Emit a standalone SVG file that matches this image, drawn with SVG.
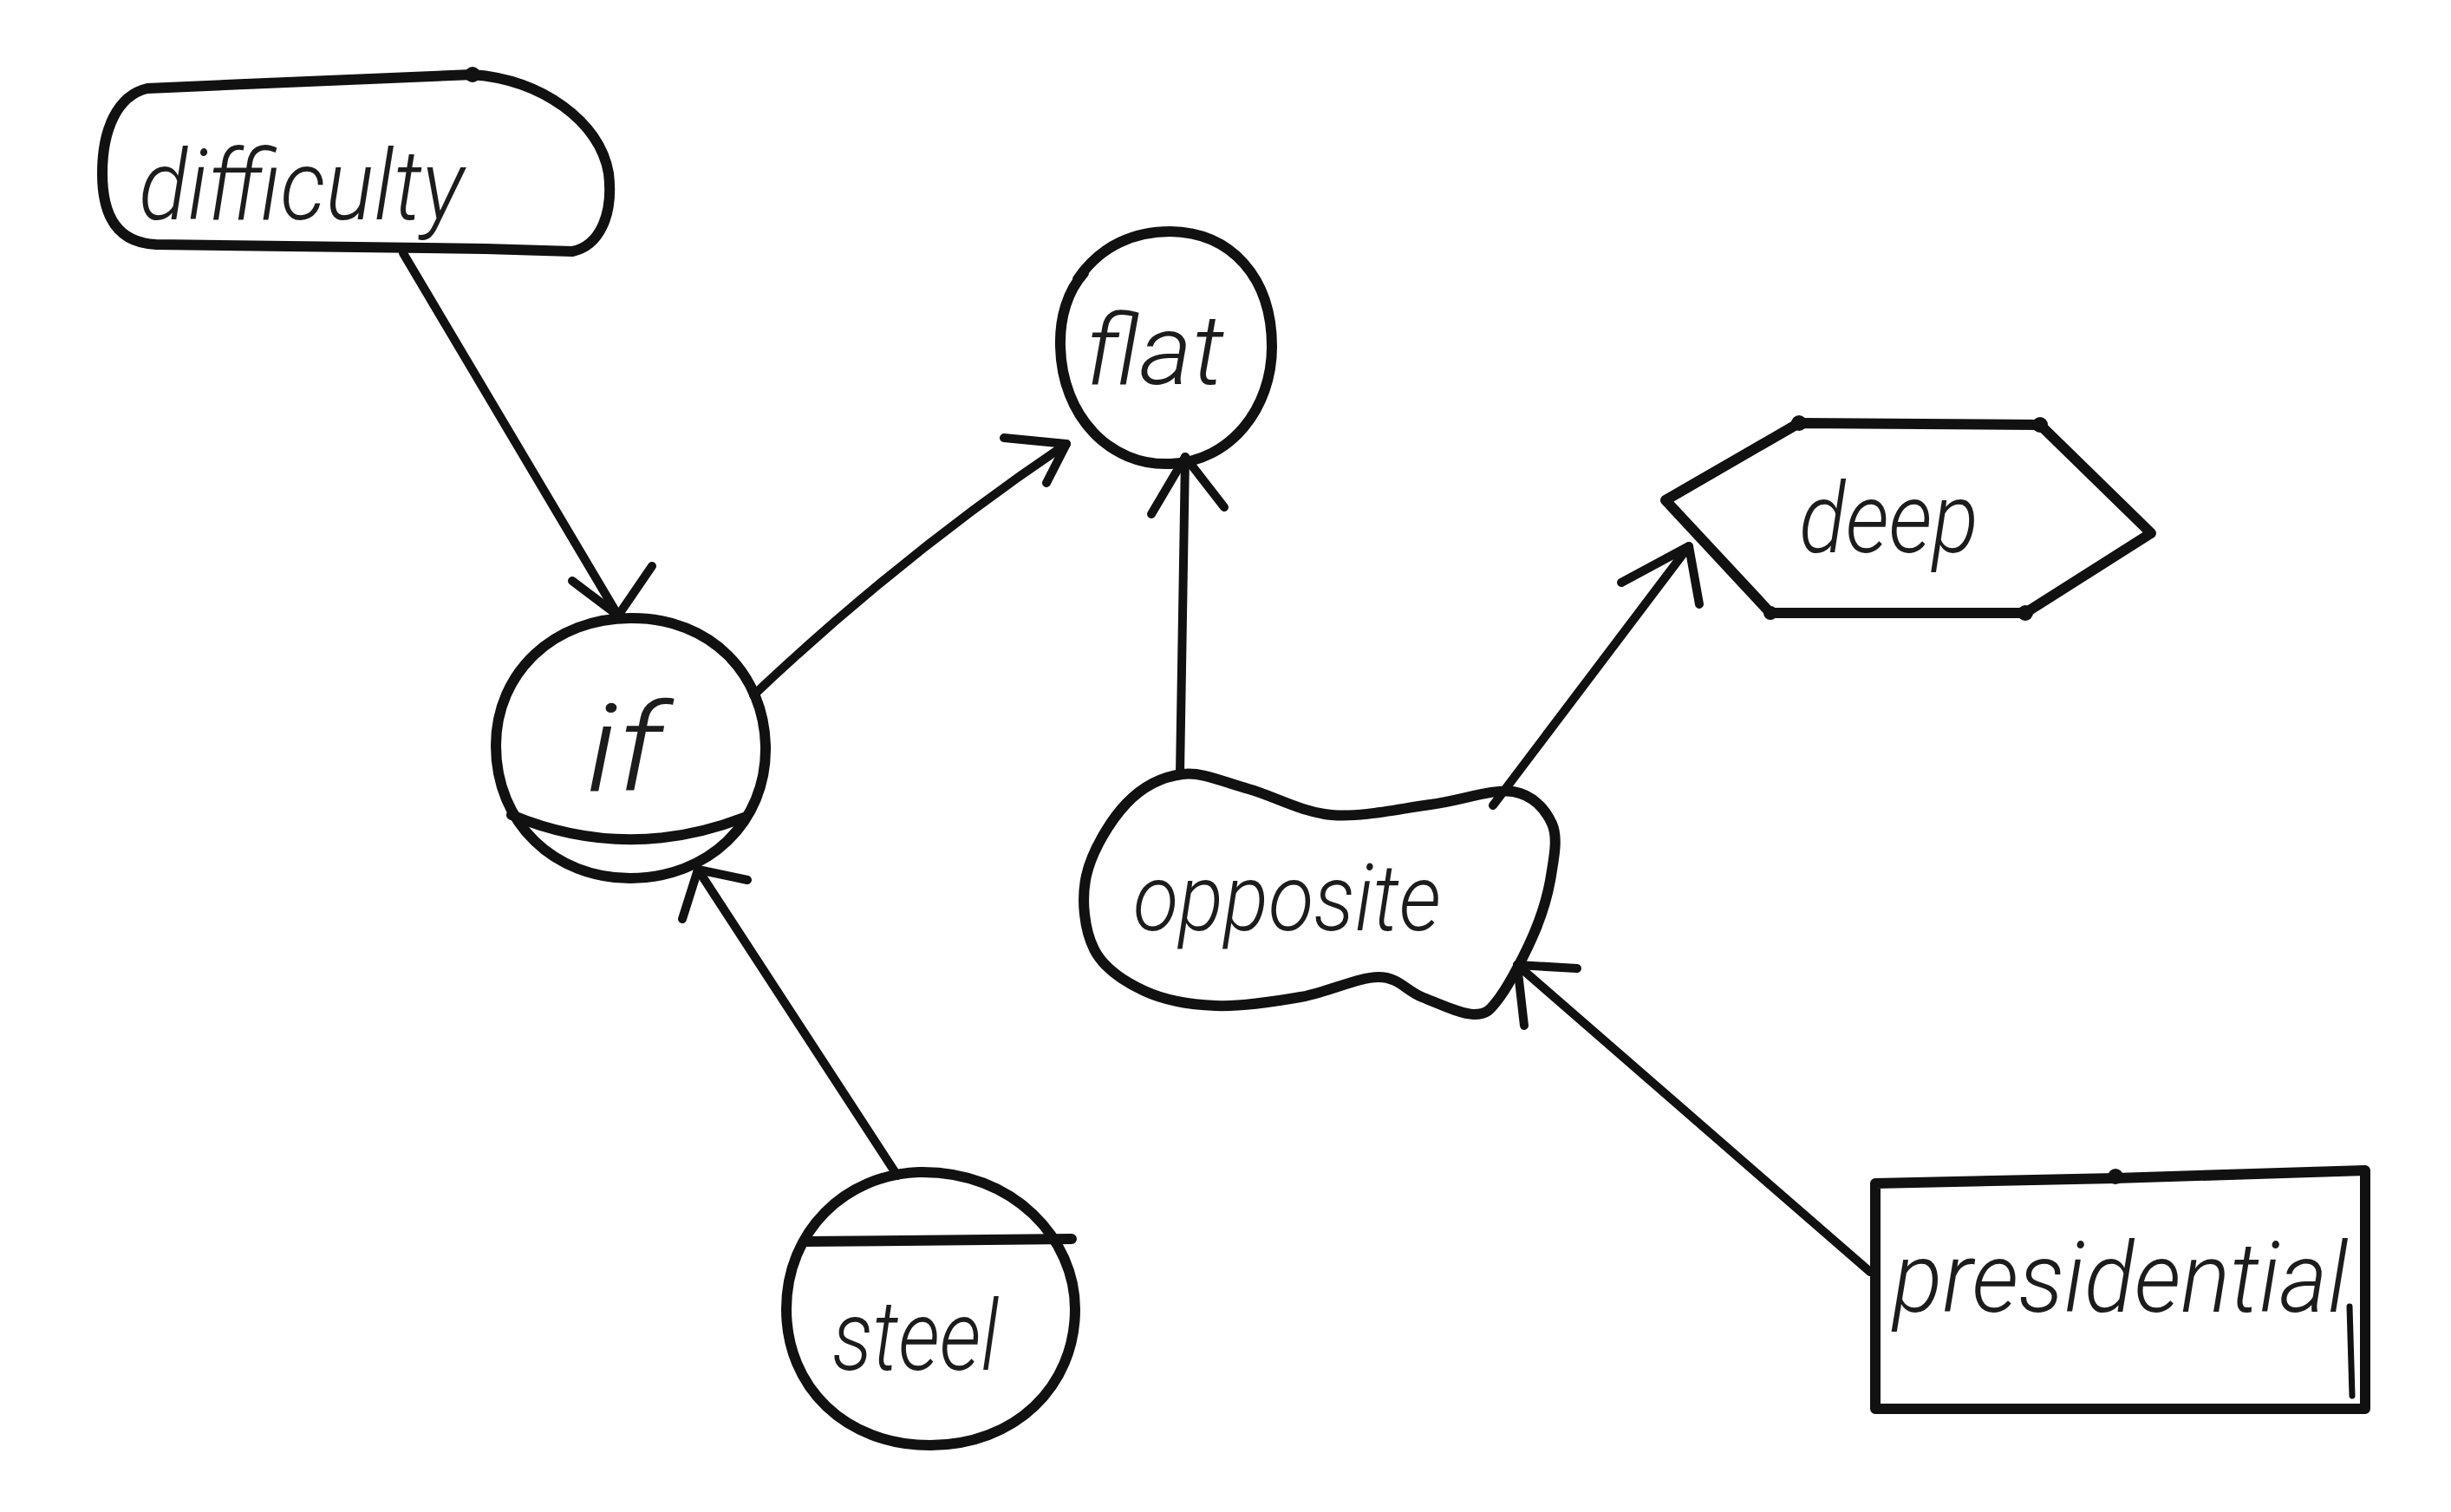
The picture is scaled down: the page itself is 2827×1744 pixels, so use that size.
<svg xmlns="http://www.w3.org/2000/svg" width="2827" height="1744" viewBox="0 0 2827 1744">
  <style>
    .shape { fill: none; stroke: #111; stroke-width: 12; stroke-linecap: round; stroke-linejoin: round; }
    .thin { fill: none; stroke: #111; stroke-width: 7; stroke-linecap: round; stroke-linejoin: round; }
    .edge { fill: none; stroke: #111; stroke-width: 10; stroke-linecap: round; stroke-linejoin: round; }
    .dot { fill: #111; }
    .label { font-family: Roboto, "Open Sans", "Liberation Sans", sans-serif; font-weight: 300; font-style: italic; fill: #1c1c1c; }
  </style>
  <rect x="0" y="0" width="2827" height="1744" fill="#ffffff"/>

  <!-- connectors: shaft plus two hand-drawn barbs each -->
  <g id="connectors">
    <g id="difficulty-to-if">
      <path class="edge" d="M 465,292 L 713,710"/>
      <path class="edge" d="M 660,670 L 713,710 L 752,653"/>
    </g>
    <g id="if-to-flat">
      <path class="edge" d="M 869,802 Q 1040,640 1230,512"/>
      <path class="edge" d="M 1158,505 L 1230,512 L 1207,557"/>
    </g>
    <g id="opposite-to-flat">
      <path class="edge" d="M 1361,893 L 1367,527"/>
      <path class="edge" d="M 1328,593 L 1367,527 L 1412,585"/>
    </g>
    <g id="opposite-to-deep">
      <path class="edge" d="M 1722,929 L 1948,630"/>
      <path class="edge" d="M 1870,672 L 1948,630 L 1960,697"/>
    </g>
    <g id="steel-to-if">
      <path class="edge" d="M 1035,1356 L 805,1003"/>
      <path class="edge" d="M 787,1060 L 805,1003 L 862,1015"/>
    </g>
    <g id="presidential-to-opposite">
      <path class="edge" d="M 2157,1467 L 1750,1113"/>
      <path class="edge" d="M 1819,1117 L 1750,1113 L 1758,1183"/>
    </g>
  </g>

  <!-- rounded terminal -->
  <g id="node-difficulty">
    <path class="shape" d="M 170,102 C 300,96 450,90 545,86 C 625,92 692,140 702,200 C 708,250 690,284 660,290 L 560,287 L 180,282 C 136,280 118,250 118,200 C 118,150 135,110 170,102 Z"/>
    <circle class="dot" cx="545" cy="86" r="9"/>
    <text class="label" x="160" y="253" font-size="112" textLength="375" lengthAdjust="spacingAndGlyphs">difficulty</text>
  </g>

  <!-- plain circle -->
  <g id="node-flat">
    <path class="shape" d="M 1243,322 C 1270,282 1310,267 1350,267 C 1420,268 1467,320 1467,400 C 1467,470 1420,532 1350,535 C 1280,538 1225,480 1223,400 C 1222,365 1232,335 1250,315"/>
    <text class="label" x="1252" y="443" font-size="112" textLength="160" lengthAdjust="spacingAndGlyphs">flat</text>
  </g>

  <!-- circle with lower segment -->
  <g id="node-if">
    <path class="shape" d="M 727,713 C 822,712 881,780 883,860 C 885,950 815,1013 727,1013 C 640,1013 572,950 572,860 C 572,775 640,713 727,713 Z"/>
    <path class="shape" d="M 590,940 Q 723,995 858,943"/>
    <text class="label" x="676" y="912" font-size="140" textLength="88" lengthAdjust="spacingAndGlyphs">if</text>
  </g>

  <!-- circle with upper segment -->
  <g id="node-steel">
    <path class="shape" d="M 1060,1352 C 1170,1350 1240,1430 1240,1510 C 1240,1600 1170,1667 1073,1667 C 975,1667 907,1600 907,1510 C 907,1420 975,1355 1060,1352 Z"/>
    <path class="shape" d="M 930,1432 L 1236,1429"/>
    <text class="label" x="960" y="1580" font-size="112" textLength="192" lengthAdjust="spacingAndGlyphs">steel</text>
  </g>

  <!-- irregular cloud-like blob -->
  <g id="node-opposite">
    <path class="shape" d="M 1299,927 C 1317.5,907.5 1340.5,895.8 1364,893 C 1387.5,890.2 1411.3,902.2 1440,910 C 1468.7,917.8 1501,937 1536,940 C 1571,943 1615.2,932.5 1650,928 C 1684.8,923.5 1721.7,909.3 1745,913 C 1768.3,916.7 1782.7,933.8 1790,950 C 1797.3,966.2 1792.3,989.2 1789,1010 C 1785.7,1030.8 1779.8,1051.7 1770,1075 C 1760.2,1098.3 1741.7,1134.2 1730,1150 C 1718.3,1165.8 1715,1170 1700,1170 C 1685,1170 1658.3,1157.2 1640,1150 C 1621.7,1142.8 1613.3,1127 1590,1127 C 1566.7,1127 1531.3,1144.5 1500,1150 C 1468.7,1155.5 1432,1161.2 1402,1160 C 1372,1158.8 1343.3,1153.8 1320,1143 C 1296.7,1132.2 1273.2,1117.2 1262,1095 C 1250.8,1072.8 1246.8,1038 1253,1010 C 1259.2,982 1280.5,946.5 1299,927 Z"/>
    <text class="label" x="1307" y="1073" font-size="108" textLength="355" lengthAdjust="spacingAndGlyphs">opposite</text>
  </g>

  <!-- hexagon -->
  <g id="node-deep">
    <path class="shape" d="M 1921,577 L 2075,488 L 2353,490 L 2481,615 L 2336,707 L 2042,707 Z"/>
    <circle class="dot" cx="2075" cy="488" r="9"/>
    <circle class="dot" cx="2353" cy="490" r="9"/>
    <circle class="dot" cx="2336" cy="707" r="9"/>
    <circle class="dot" cx="2042" cy="707" r="8"/>
    <text class="label" x="2075" y="637" font-size="112" textLength="207" lengthAdjust="spacingAndGlyphs">deep</text>
  </g>

  <!-- rectangle -->
  <g id="node-presidential">
    <path class="shape" d="M 2163,1365 L 2440,1359 L 2728,1350 L 2728,1625 L 2163,1625 Z"/>
    <path class="thin" d="M 2710,1507 L 2713,1610"/>
    <circle class="dot" cx="2440" cy="1357" r="9"/>
    <text class="label" x="2183" y="1513" font-size="112" textLength="525" lengthAdjust="spacingAndGlyphs">presidential</text>
  </g>
</svg>
